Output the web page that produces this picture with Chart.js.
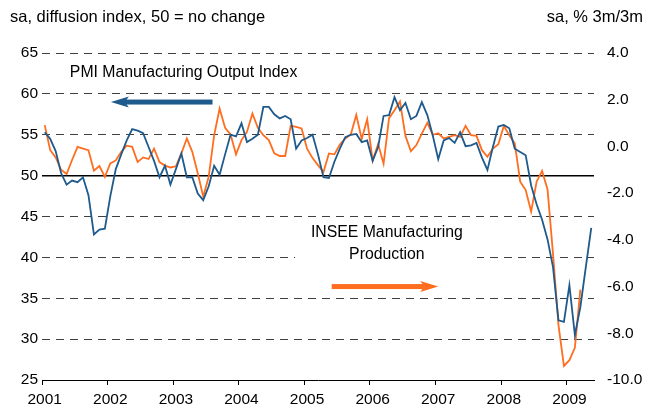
<!DOCTYPE html>
<html>
<head>
<meta charset="utf-8">
<script src="https://cdn.jsdelivr.net/npm/chart.js"></script>
<style>
  body { margin: 0; background: #fff; }
  canvas { display: block; }
</style>
</head>
<body>
<canvas id="myChart" width="645" height="408"></canvas>
<script>
// year tick labels, one category per month from Jan 2001
var years = ['2001', '2002', '2003', '2004', '2005', '2006', '2007', '2008', '2009'];
var monthNames = ['Jan', 'Feb', 'Mar', 'Apr', 'May', 'Jun', 'Jul', 'Aug', 'Sep', 'Oct', 'Nov', 'Dec'];

// PMI Manufacturing Output Index (left axis), Jan 2001 - May 2009
var pmi = [
  55.3, 54.5, 53.0, 50.3, 48.9, 49.4, 49.2, 49.8, 47.6, 42.8, 43.4, 43.5,
  47.5, 50.8, 52.6, 54.3, 55.7, 55.5, 55.2, 53.5, 51.8, 49.8, 51.2, 48.9,
  50.8, 52.7, 49.8, 49.8, 47.8, 47.0, 48.7, 51.2, 50.1, 52.6, 55.0, 54.8,
  56.4, 54.1, 54.5, 55.0, 58.4, 58.4, 57.5, 57.0, 57.3, 56.9, 53.3, 54.3,
  54.6, 55.0, 52.6, 49.8, 49.7, 51.7, 53.3, 54.7, 55.0, 55.1, 54.1, 54.3,
  51.8, 53.5, 57.3, 57.4, 59.6, 58.0, 58.9, 56.9, 57.3, 59.0, 57.4, 54.9,
  52.0, 54.3, 54.6, 54.0, 55.3, 53.6, 53.7, 54.0, 52.2, 50.7, 53.5, 56.0,
  56.2, 55.8, 53.3, 52.9, 52.5, 48.8, 46.5, 44.6, 42.2, 38.8, 32.3, 32.1,
  36.6, 30.5, 33.9, 38.8, 43.6
];

// INSEE Manufacturing Production, % 3m/3m (right axis), Jan 2001 - Mar 2009
var insee = [
  0.91, -0.16, -0.47, -1.0, -1.18, -0.58, -0.02, -0.09, -0.16, -1.04, -0.84, -1.3,
  -0.73, -0.6, -0.23, 0.03, -0.02, -0.67, -0.47, -0.54, -0.09, -0.67, -0.82, -0.9,
  -0.85, -0.3, 0.34, -0.23, -1.15, -2.15, -1.3, 0.48, 1.62, 0.8, 0.51, -0.34,
  0.27, 0.62, 1.41, 0.8, 0.48, 0.27, -0.3, -0.41, -0.41, 0.88, 0.84, 0.77,
  -0.1, -0.5, -0.8, -1.1, -0.3, -0.34, 0.08, 0.34, 0.51, 1.35, 0.32, 1.16,
  -0.6, 0.1, -0.74, 1.21, 1.55, 1.92, 0.45, -0.21, 0.06, 0.55, 1.01, 0.5,
  0.56, 0.34, 0.41, 0.48, 0.41, 0.88, 0.48, 0.45, -0.16, -0.44, -0.09, 0.09,
  0.88, 0.48, 0.13, -1.51, -1.87, -2.79, -1.51, -1.05, -1.84, -4.6, -7.65, -9.4,
  -9.15, -8.62, -6.13, null, null
];

var blue = '#1f5a8c';
var orange = '#ff6d1f';
var fontFamily = '"Liberation Sans", Arial, sans-serif';

var labels = [];
years.forEach(function (yr) {
  monthNames.forEach(function (m) { labels.push(m + ' ' + yr); });
});
labels = labels.slice(0, pmi.length);

function arrow(ctx, x0, x1, yy, color) {
  var dir = x1 > x0 ? 1 : -1;
  var head = 18;
  ctx.fillStyle = color;
  ctx.fillRect(Math.min(x0, x1 - dir * (head - 4)), yy - 2.5, Math.abs(x1 - dir * (head - 4) - x0), 5);
  ctx.beginPath();
  ctx.moveTo(x1, yy);
  ctx.lineTo(x1 - dir * head, yy - 5.5);
  ctx.lineTo(x1 - dir * (head - 4), yy);
  ctx.lineTo(x1 - dir * head, yy + 5.5);
  ctx.closePath();
  ctx.fill();
}

// text labels and arrows on top of the chart
var notes = {
  id: 'notes',
  afterDraw: function (chart) {
    var ctx = chart.ctx;
    var x = chart.scales.x, y = chart.scales.y, y1 = chart.scales.y1;
    ctx.save();
    ctx.fillStyle = '#000';
    ctx.textBaseline = 'middle';

    ctx.font = '16.5px ' + fontFamily;
    ctx.textAlign = 'left';
    ctx.fillText('sa, diffusion index, 50 = no change', 10, 17);
    ctx.textAlign = 'right';
    ctx.fillText('sa, % 3m/3m', 643, 17);

    ctx.font = '15.8px ' + fontFamily;
    ctx.textAlign = 'left';
    ctx.fillText('PMI Manufacturing Output Index', x.getPixelForValue(4.6), y.getPixelForValue(62.65));
    arrow(ctx, x.getPixelForValue(30.7), x.getPixelForValue(12.1), y.getPixelForValue(59.0), blue);

    // white box behind the INSEE label
    ctx.fillStyle = '#fff';
    var bx0 = x.getPixelForValue(45.8), bx1 = x.getPixelForValue(79.1);
    var by0 = y.getPixelForValue(44.6), by1 = y.getPixelForValue(39.0);
    ctx.fillRect(bx0, by0, bx1 - bx0, by1 - by0);
    ctx.fillStyle = '#000';
    ctx.textAlign = 'center';
    ctx.fillText('INSEE Manufacturing', x.getPixelForValue(62.6), y.getPixelForValue(43.0));
    ctx.fillText('Production', x.getPixelForValue(62.6), y.getPixelForValue(40.3));
    arrow(ctx, x.getPixelForValue(52.5), x.getPixelForValue(72.0), y1.getPixelForValue(-6.0), orange);
    ctx.restore();
  }
};

Chart.defaults.font.family = fontFamily;
Chart.defaults.font.size = 15.5;
Chart.defaults.color = '#000';

var ctx = document.getElementById('myChart').getContext('2d');
var chart = new Chart(ctx, {
  type: 'line',
  data: {
    labels: labels,
    datasets: [{
      label: 'PMI Manufacturing Output Index',
      data: pmi,
      yAxisID: 'y',
      borderColor: blue,
      backgroundColor: blue,
      borderWidth: 1.8,
      pointRadius: 0,
      tension: 0,
      fill: false
    }, {
      label: 'INSEE Manufacturing Production',
      data: insee,
      yAxisID: 'y1',
      borderColor: orange,
      backgroundColor: orange,
      borderWidth: 1.8,
      pointRadius: 0,
      tension: 0,
      fill: false
    }]
  },
  options: {
    responsive: false,
    animation: false,
    layout: { padding: { top: 53, left: 0, right: 0, bottom: 0 } },
    plugins: {
      legend: { display: false },
      tooltip: { enabled: false }
    },
    scales: {
      x: {
        type: 'category',
        offset: true,
        afterFit: function (s) { s.height = 28; },
        grid: {
          offset: true,
          drawOnChartArea: false,
          tickLength: 5,
          color: function (c) {
            return (c.tick && c.index % 12 === 0) ? '#000' : 'rgba(0,0,0,0)';
          }
        },
        border: { display: true, color: '#000', width: 1 },
        ticks: {
          autoSkip: false,
          maxRotation: 0,
          minRotation: 0,
          padding: 5,
          callback: function (v, i) { return i % 12 === 0 ? years[i / 12] : ''; }
        }
      },
      y: {
        position: 'left',
        min: 25,
        max: 65,
        afterFit: function (s) { s.width = 42; },
        ticks: { stepSize: 5, padding: 4 },
        grid: {
          drawTicks: false,
          color: function (c) {
            if (!c.tick) return 'rgba(0,0,0,0)';
            if (c.tick.value === 25) return 'rgba(0,0,0,0)';
            return c.tick.value === 50 ? '#000' : '#404040';
          },
          lineWidth: function (c) { return c.tick && c.tick.value === 50 ? 1.6 : 1; }
        },
        border: {
          display: false,
          dash: function (c) { return c.tick && c.tick.value === 50 ? [] : [8, 6]; }
        }
      },
      y1: {
        position: 'right',
        min: -10,
        max: 4,
        afterFit: function (s) { s.width = 51; },
        ticks: {
          stepSize: 2,
          padding: 13,
          callback: function (v) { return Number(v).toFixed(1); }
        },
        grid: { drawOnChartArea: false, drawTicks: false },
        border: { display: false }
      }
    }
  },
  plugins: [notes]
});
</script>
</body>
</html>
